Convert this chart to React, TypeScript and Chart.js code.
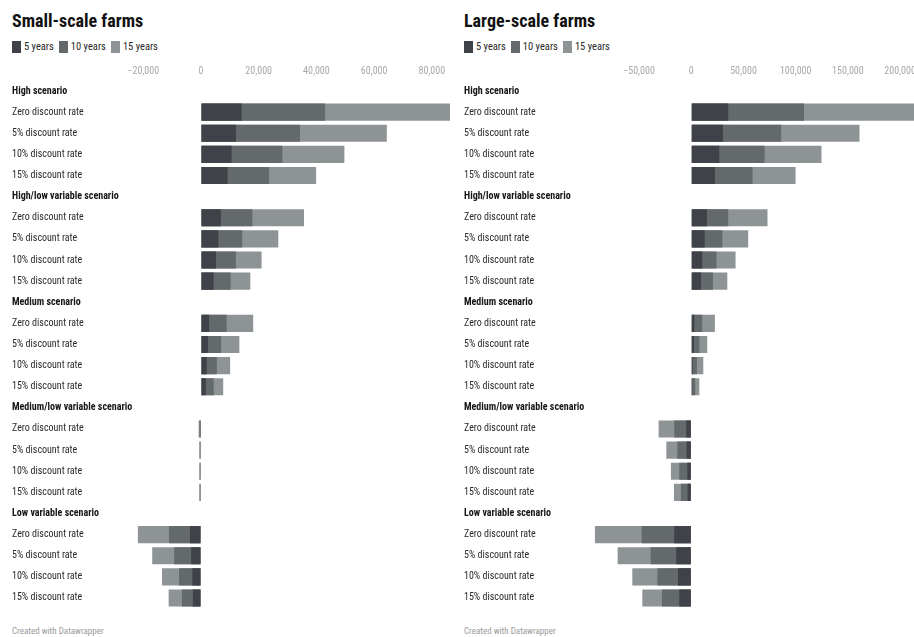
import React, { useEffect, useRef } from "react";
import Chart from "chart.js/auto";

const rowLabels = [
  "High scenario", "Zero discount rate", "5% discount rate", "10% discount rate", "15% discount rate",
  "High/low variable scenario", "Zero discount rate", "5% discount rate", "10% discount rate", "15% discount rate",
  "Medium scenario", "Zero discount rate", "5% discount rate", "10% discount rate", "15% discount rate",
  "Medium/low variable scenario", "Zero discount rate", "5% discount rate", "10% discount rate", "15% discount rate",
  "Low variable scenario", "Zero discount rate", "5% discount rate", "10% discount rate", "15% discount rate",
];
const headerRows = [0, 5, 10, 15, 20];
const seriesNames = ["5 years", "10 years", "15 years"];

const smallFiveYears = [null, 14100, 12100, 10600, 9200, null, 6900, 6000, 5200, 4400, null, 2800, 2400, 2000, 1700, null, -300, -200, -200, -200, null, -3800, -3400, -3000, -2800];
const smallTenYears = [null, 43000, 34300, 28200, 23600, null, 17800, 14300, 12100, 10300, null, 8900, 7000, 5500, 4400, null, -500, -400, -400, -400, null, -11100, -9300, -7600, -6600];
const smallFifteenYears = [null, 86300, 64400, 49700, 39900, null, 35700, 26800, 21000, 17100, null, 18100, 13300, 10100, 7700, null, -800, -600, -600, -600, null, -21900, -16900, -13500, -11200];

const largeFiveYears = [null, 35400, 30300, 26800, 22600, null, 15000, 12800, 10500, 9300, null, 2900, 2500, 1300, 1000, null, -4800, -4500, -3800, -3500, null, -16300, -14400, -12800, -11500];
const largeTenYears = [null, 107900, 86100, 70200, 58700, null, 35400, 29700, 24200, 20700, null, 10500, 7700, 5400, 3800, null, -16300, -13400, -11500, -9900, null, -47500, -38900, -32500, -28100];
const largeFifteenYears = [null, 215000, 161100, 124700, 99900, null, 73000, 54500, 42400, 34500, null, 22600, 15300, 11500, 7700, null, -31300, -23900, -19500, -16600, null, -92500, -70500, -56500, -46900];

const smallTicks = [-20000, 0, 20000, 40000, 60000, 80000];
const largeTicks = [-50000, 0, 50000, 100000, 150000, 200000];

const colors = ["#3f4248", "#646a6b", "#8e9496"];
const FONT = "'Roboto Condensed', 'Liberation Sans Narrow', 'Arial Narrow', Roboto, sans-serif";

function fmt(v: number) {
  const s = Math.abs(v).toLocaleString("en-US");
  return v < 0 ? "\u2212" + s : s;
}

type PanelProps = {
  title: string;
  left: number;
  width: number;
  series: (number | null)[][];
  ticks: number[];
  min: number;
  max: number;
  padRight: number;
  yWidth: number;
};

function Panel({ title, left, width, series, ticks, min, max, padRight, yWidth }: PanelProps) {
  const ref = useRef<HTMLCanvasElement | null>(null);
  useEffect(() => {
    if (!ref.current) return;
    const chart = new Chart(ref.current, {
      type: "bar",
      data: {
        labels: rowLabels,
        datasets: series.map((d, i) => ({
          label: seriesNames[i],
          data: d,
          backgroundColor: colors[i],
          borderWidth: 0,
          grouped: false,
          barPercentage: 0.81,
          categoryPercentage: 1,
        })),
      },
      options: {
        indexAxis: "y",
        animation: false,
        responsive: false,
        maintainAspectRatio: false,
        devicePixelRatio: 1,
        layout: { padding: { left: 12, right: padRight, top: 0, bottom: 12.44 } },
        plugins: { legend: { display: false }, tooltip: { enabled: false } },
        scales: {
          x: {
            type: "linear",
            position: "top",
            min,
            max,
            z: 1,
            afterBuildTicks: (scale: any) => {
              scale.ticks = ticks.map((v) => ({ value: v }));
            },
            afterFit: (scale: any) => {
              scale.height = 29.44;
              scale.paddingLeft = 0;
              scale.paddingRight = 0;
            },
            grid: { color: "#ffffff", lineWidth: 1, drawTicks: false },
            border: { display: false },
            ticks: {
              padding: 3,
              color: "#a8a8a8",
              font: { family: FONT, size: 10 },
              maxRotation: 0,
              autoSkip: false,
              callback: (v: any) => fmt(Number(v)),
            },
          },
          y: {
            type: "category",
            position: "left",
            afterFit: (scale: any) => {
              scale.width = yWidth;
            },
            grid: { display: false },
            border: { display: false },
            ticks: {
              crossAlign: "far",
              autoSkip: false,
              padding: 0,
              color: (ctx: any) => (headerRows.includes(ctx.index) ? "#151515" : "#2a2a2a"),
              font: (ctx: any) =>
                headerRows.includes(ctx.index)
                  ? { family: FONT, size: 10, weight: "bold" }
                  : { family: FONT, size: 10, weight: "normal" },
            },
          },
        },
      },
    });
    return () => chart.destroy();
  }, []);

  const legendItem = (i: number) => (
    <span key={i} style={{ display: "inline-flex", alignItems: "center", marginRight: 5 }}>
      <span style={{ display: "inline-block", width: 9, height: 12, background: colors[i], marginRight: 3 }} />
      <span>{seriesNames[i]}</span>
    </span>
  );

  return (
    <div style={{ position: "absolute", left, top: 0, width, height: 637 }}>
      <div
        style={{
          position: "absolute",
          left: 12,
          top: 8,
          fontFamily: FONT,
          fontWeight: "bold",
          fontSize: 18,
          lineHeight: "26px",
          color: "#111",
          whiteSpace: "nowrap",
        }}
      >
        {title}
      </div>
      <div
        style={{
          position: "absolute",
          left: 12,
          top: 40,
          fontFamily: FONT,
          fontSize: 10.5,
          lineHeight: "14px",
          color: "#2a2a2a",
          display: "flex",
          whiteSpace: "nowrap",
        }}
      >
        {[0, 1, 2].map(legendItem)}
      </div>
      <canvas
        ref={ref}
        width={width}
        height={570}
        style={{ position: "absolute", left: 0, top: 51, width, height: 570 }}
      />
      <div
        style={{
          position: "absolute",
          left: 12,
          top: 625,
          fontFamily: FONT,
          fontSize: 9,
          lineHeight: "13px",
          color: "#9a9a9a",
          whiteSpace: "nowrap",
        }}
      >
        Created with Datawrapper
      </div>
    </div>
  );
}

export default function App() {
  return (
    <div
      style={{
        position: "absolute",
        left: 0,
        top: 0,
        width: 914,
        height: 637,
        overflow: "hidden",
        background: "#fff",
      }}
    >
      <Panel
        title="Small-scale farms"
        left={0}
        width={452}
        series={[smallFiveYears, smallTenYears, smallFifteenYears]}
        ticks={smallTicks}
        min={-22000}
        max={86300}
        padRight={2}
        yWidth={125.5}
      />
      <Panel
        title="Large-scale farms"
        left={452}
        width={462}
        series={[largeFiveYears, largeTenYears, largeFifteenYears]}
        ticks={largeTicks}
        min={-92500}
        max={213300}
        padRight={0}
        yWidth={130.7}
      />
    </div>
  );
}
